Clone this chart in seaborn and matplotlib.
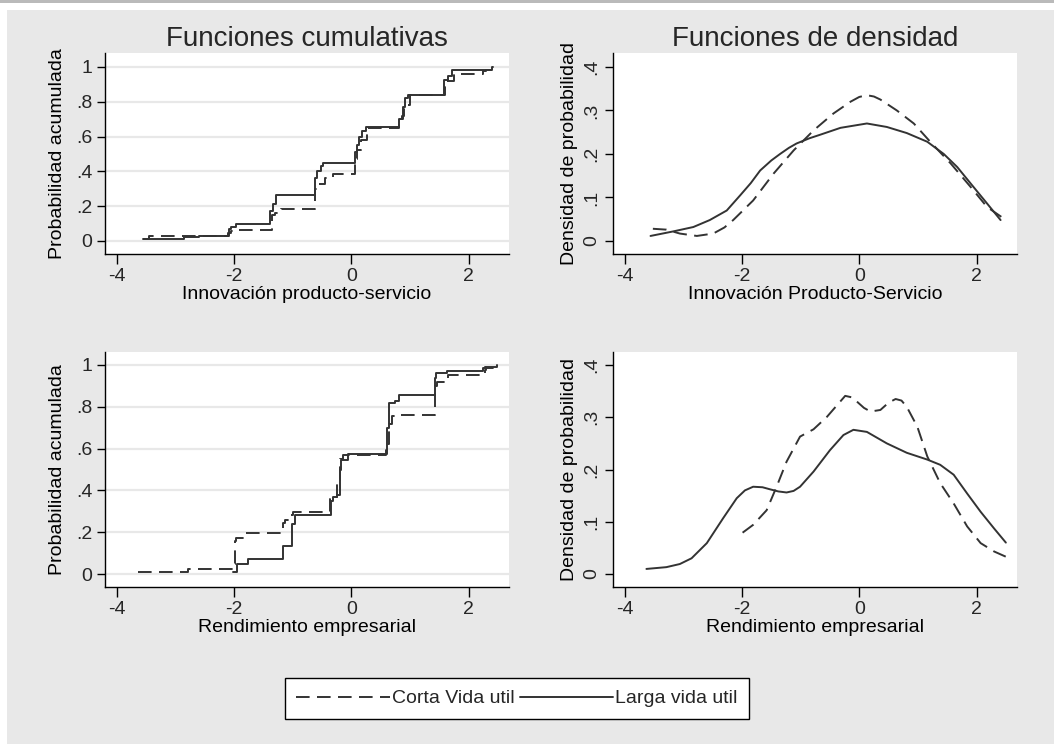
import matplotlib
matplotlib.use("Agg")
import matplotlib.pyplot as plt
from matplotlib.patches import Rectangle
import seaborn as sns
import pandas as pd

# ---------------- data ----------------
# Panel 1: cumulative, Innovacion producto-servicio
cum1_larga_x = [-3.55, -2.85, -2.6, -2.09, -2.05, -1.97, -1.38, -1.33, -1.28, -0.625, -0.58, -0.52, -0.48,
                0.057, 0.10, 0.14, 0.19, 0.255, 0.82, 0.88, 0.92, 0.965, 1.58, 1.65, 1.72, 2.40, 2.42]
cum1_larga_y = [0.01, 0.02, 0.03, 0.07, 0.08, 0.10, 0.17, 0.21, 0.265, 0.36, 0.40, 0.43, 0.45,
                0.51, 0.55, 0.60, 0.63, 0.655, 0.70, 0.77, 0.82, 0.84, 0.925, 0.95, 0.983, 1.0, 1.0]
cum1_corta_x = [-3.55, -3.45, -2.1, -2.05, -1.95, -1.36, -1.30, -1.19, -0.625, -0.58, -0.45, -0.31,
                0.07, 0.10, 0.17, 0.27, 0.82, 0.86, 0.90, 1.0, 1.6, 1.62, 1.75, 2.24, 2.30, 2.42]
cum1_corta_y = [0.01, 0.03, 0.045, 0.055, 0.063, 0.15, 0.16, 0.182, 0.30, 0.33, 0.36, 0.385,
                0.47, 0.52, 0.58, 0.65, 0.665, 0.72, 0.78, 0.84, 0.90, 0.92, 0.96, 0.975, 0.985, 1.0]

# Panel 2: density, Innovacion producto-servicio
den1_larga_x = [-3.56, -3.17, -2.83, -2.55, -2.26, -2.03, -1.85, -1.69, -1.50, -1.35, -1.20, -1.07,
                -0.85, -0.67, -0.32, 0.13, 0.47, 0.81, 1.16, 1.44, 1.67, 1.90, 2.18, 2.41]
den1_larga_y = [0.0115, 0.022, 0.032, 0.048, 0.070, 0.105, 0.133, 0.162, 0.185, 0.200, 0.214, 0.224,
                0.236, 0.244, 0.260, 0.270, 0.262, 0.248, 0.228, 0.200, 0.170, 0.132, 0.086, 0.048]
den1_corta_x = [-3.52, -3.29, -3.06, -2.77, -2.49, -2.30, -2.15, -1.81, -1.46, -1.12, -0.78, -0.44,
                -0.15, 0.0, 0.13, 0.25, 0.36, 0.64, 0.93, 1.21, 1.56, 1.90, 2.18, 2.47]
den1_corta_y = [0.028, 0.026, 0.017, 0.0115, 0.017, 0.031, 0.048, 0.093, 0.155, 0.208, 0.254, 0.293,
                0.320, 0.331, 0.335, 0.332, 0.325, 0.300, 0.270, 0.228, 0.178, 0.124, 0.078, 0.051]

# Panel 3: cumulative, Rendimiento empresarial
cum2_larga_x = [-2.01, -1.95, -1.76, -1.17, -1.01, -0.96, -0.35, -0.32, -0.25, -0.195, -0.18, -0.05,
                0.61, 0.65, 0.75, 0.82, 1.43, 1.45, 1.63, 2.25, 2.28, 2.48]
cum2_larga_y = [0.01, 0.046, 0.07, 0.136, 0.24, 0.282, 0.35, 0.37, 0.38, 0.50, 0.545, 0.574,
                0.70, 0.817, 0.83, 0.856, 0.94, 0.963, 0.973, 0.985, 0.99, 1.0]
cum2_corta_x = [-3.64, -2.78, -2.01, -1.98, -1.97, -1.80, -1.17, -1.13, -1.03, -0.99, -0.36, -0.30,
                -0.25, -0.19, -0.14, 0.60, 0.65, 0.70, 0.75, 1.43, 1.47, 1.65, 2.28, 2.30, 2.48]
cum2_corta_y = [0.01, 0.022, 0.05, 0.16, 0.17, 0.195, 0.242, 0.26, 0.28, 0.298, 0.36, 0.37,
                0.45, 0.55, 0.569, 0.62, 0.72, 0.756, 0.76, 0.90, 0.92, 0.952, 0.975, 0.985, 1.0]

# Panel 4: density, Rendimiento empresarial
den2_larga_x = [-3.63, -3.29, -3.06, -2.86, -2.60, -2.32, -2.09, -1.95, -1.81, -1.65, -1.52, -1.38,
                -1.24, -1.12, -1.01, -0.78, -0.50, -0.27, -0.10, 0.13, 0.47, 0.81, 1.16, 1.38,
                1.61, 1.84, 2.07, 2.30, 2.50]
den2_larga_y = [0.0096, 0.013, 0.019, 0.030, 0.059, 0.107, 0.145, 0.160, 0.167, 0.166, 0.162, 0.158,
                0.156, 0.159, 0.167, 0.196, 0.237, 0.266, 0.276, 0.272, 0.250, 0.232, 0.219, 0.209,
                0.190, 0.154, 0.119, 0.087, 0.060]
den2_corta_x = [-1.99, -1.81, -1.58, -1.41, -1.24, -1.01, -0.78, -0.55, -0.38, -0.24, -0.12, -0.04,
                0.08, 0.19, 0.36, 0.50, 0.62, 0.72, 0.81, 0.99, 1.16, 1.38, 1.61, 1.84, 2.07, 2.30,
                2.50]
den2_corta_y = [0.079, 0.094, 0.122, 0.167, 0.215, 0.263, 0.277, 0.301, 0.323, 0.341, 0.338, 0.330,
                0.318, 0.311, 0.314, 0.328, 0.335, 0.332, 0.320, 0.282, 0.225, 0.174, 0.135, 0.091,
                0.059, 0.043, 0.033]

series_labels = ["Corta Vida util", "Larga vida util"]
titles = ["Funciones cumulativas", "Funciones de densidad"]
xlabels = ["Innovación producto-servicio", "Innovación Producto-Servicio",
           "Rendimiento empresarial", "Rendimiento empresarial"]
ylabels = ["Probabilidad acumulada", "Densidad de probabilidad"]
xticks = [-4, -2, 0, 2]
xtick_labels = ["-4", "-2", "0", "2"]
cum_ticks = [0, 0.2, 0.4, 0.6, 0.8, 1.0]
cum_tick_labels = ["0", ".2", ".4", ".6", ".8", "1"]
den_ticks = [0, 0.1, 0.2, 0.3, 0.4]
den_tick_labels = ["0", ".1", ".2", ".3", ".4"]

# ---------------- style ----------------
sns.set_style("white")
plt.rcParams["font.family"] = ["Liberation Sans", "DejaVu Sans"]

W, H = 1054, 744
fig = plt.figure(figsize=(W / 100, H / 100), dpi=100, facecolor="white")
fig.patches.append(Rectangle((7 / W, 0), 1, (H - 10) / H, transform=fig.transFigure,
                             facecolor="#e8e8e8", edgecolor="none", zorder=-10))
fig.patches.append(Rectangle((0, 1 - 3 / H), 1, 3 / H, transform=fig.transFigure,
                             facecolor="#bababa", edgecolor="none", zorder=-10))

def box(l, t, r, b):
    return [l / W, 1 - b / H, (r - l) / W, (b - t) / H]

ax1 = fig.add_axes(box(105, 53, 509, 254))
ax2 = fig.add_axes(box(613, 53, 1017, 254))
ax3 = fig.add_axes(box(105, 352, 509, 587))
ax4 = fig.add_axes(box(613, 352, 1017, 587))

LC = "#333333"
LW = 1.4
DASH = (0, (7, 3.8))

def draw(ax, xs, ys, dashed, label, steps):
    df = pd.DataFrame({"x": xs, "y": ys})
    kw = dict(drawstyle="steps-post") if steps else {}
    sns.lineplot(data=df, x="x", y="y", ax=ax, color=LC, lw=LW, estimator=None, sort=False,
                 linestyle=DASH if dashed else "-", label=label, legend=False, **kw)

draw(ax1, cum1_corta_x, cum1_corta_y, True, series_labels[0], True)
draw(ax1, cum1_larga_x, cum1_larga_y, False, series_labels[1], True)
draw(ax2, den1_corta_x, den1_corta_y, True, series_labels[0], False)
draw(ax2, den1_larga_x, den1_larga_y, False, series_labels[1], False)
draw(ax3, cum2_corta_x, cum2_corta_y, True, series_labels[0], True)
draw(ax3, cum2_larga_x, cum2_larga_y, False, series_labels[1], True)
draw(ax4, den2_corta_x, den2_corta_y, True, series_labels[0], False)
draw(ax4, den2_larga_x, den2_larga_y, False, series_labels[1], False)

FS = 14
for i, ax in enumerate([ax1, ax2, ax3, ax4]):
    cum = i in (0, 2)
    ax.set_facecolor("white")
    ax.set_xlim(-4.2, 2.69)
    for s in ["top", "right"]:
        ax.spines[s].set_visible(False)
    for s in ["left", "bottom"]:
        ax.spines[s].set_color("black")
        ax.spines[s].set_linewidth(1.0)
    ax.set_xticks(xticks)
    ax.set_xticklabels(xtick_labels, fontsize=FS)
    ax.tick_params(axis="x", direction="out", length=7, width=1, color="black", pad=3,
                   bottom=True)
    ax.tick_params(axis="y", direction="out", length=6, width=1, color="black", pad=3,
                   left=True)
    ax.set_xlabel(xlabels[i], fontsize=FS, labelpad=1, color="black")
    if cum:
        ax.set_yticks(cum_ticks)
        ax.set_yticklabels(cum_tick_labels, fontsize=FS)
        ax.yaxis.grid(True, color="#e8e8e8", lw=1.6)
        ax.set_axisbelow(True)
        ax.set_ylabel(ylabels[0], fontsize=FS, labelpad=7, color="black")
    else:
        ax.set_yticks(den_ticks)
        ax.set_yticklabels(den_tick_labels, fontsize=FS, rotation=90, va="center")
        ax.set_ylabel(ylabels[1], fontsize=FS, labelpad=4, color="black")
    ax.xaxis.grid(False)

ax1.set_ylim(-0.075, 1.08)
ax3.set_ylim(-0.062, 1.062)
ax2.set_ylim(-0.03, 0.432)
ax4.set_ylim(-0.025, 0.425)

ax1.set_title(titles[0], fontsize=20, pad=5)
ax2.set_title(titles[1], fontsize=20, pad=5)

handles, labels = ax1.get_legend_handles_labels()
leg = fig.legend(handles, labels, loc="center", bbox_to_anchor=(517 / W, 1 - 698.5 / H),
                 ncol=2, fontsize=FS, frameon=True, fancybox=False, edgecolor="black",
                 facecolor="white", framealpha=1, handlelength=4.8, handletextpad=0.1,
                 columnspacing=0.3, borderpad=0.6, borderaxespad=0)
leg.get_frame().set_linewidth(1.0)

fig.savefig("out.png", dpi=100, facecolor=fig.get_facecolor())
